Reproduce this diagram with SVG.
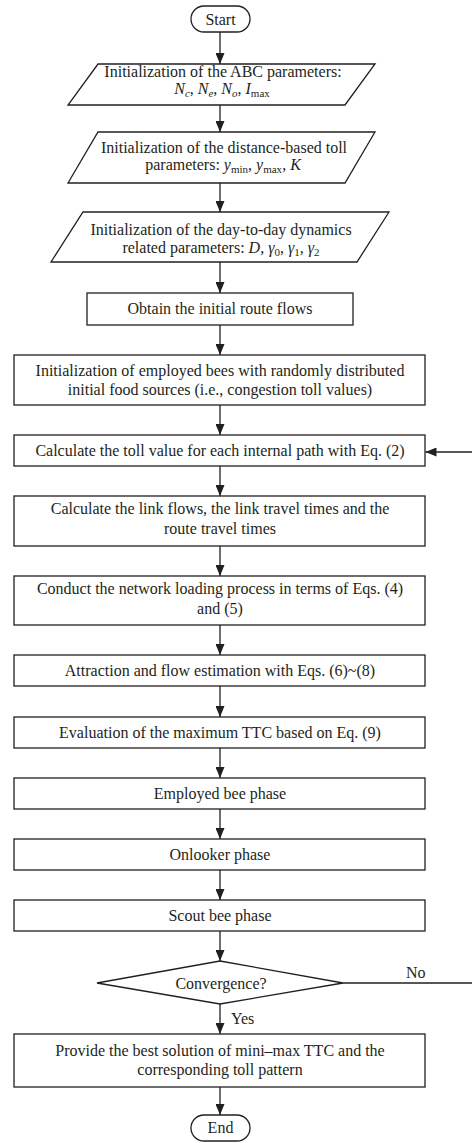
<svg xmlns="http://www.w3.org/2000/svg" width="472" height="1143" viewBox="0 0 472 1143">
<style>
.s{fill:#fff;stroke:#231f20;stroke-width:1.3}
.t{font-family:"Liberation Serif","Times New Roman",serif;font-size:16px;fill:#231f20;text-anchor:middle}
.l{font-family:"Liberation Serif","Times New Roman",serif;font-size:16px;fill:#231f20}
.c{fill:none;stroke:#231f20;stroke-width:1.3}
.i{font-style:italic}
.sub{font-size:11px}
</style>
<defs>
<marker id="ah" markerUnits="userSpaceOnUse" markerWidth="11" markerHeight="9" refX="11" refY="4.5" orient="auto">
<path d="M0,0 L11,4.5 L0,9 z" fill="#231f20"/>
</marker>
</defs>
<rect width="472" height="1143" fill="#fff"/>
<g id="connectors">
<line class="c" x1="220" y1="32" x2="220" y2="64" marker-end="url(#ah)"/>
<line class="c" x1="220" y1="105" x2="220" y2="132" marker-end="url(#ah)"/>
<line class="c" x1="220" y1="183" x2="220" y2="212" marker-end="url(#ah)"/>
<line class="c" x1="220" y1="262" x2="220" y2="293" marker-end="url(#ah)"/>
<line class="c" x1="220" y1="325" x2="220" y2="355" marker-end="url(#ah)"/>
<line class="c" x1="220" y1="405" x2="220" y2="435" marker-end="url(#ah)"/>
<line class="c" x1="220" y1="466" x2="220" y2="496" marker-end="url(#ah)"/>
<line class="c" x1="220" y1="546" x2="220" y2="576" marker-end="url(#ah)"/>
<line class="c" x1="220" y1="625" x2="220" y2="655" marker-end="url(#ah)"/>
<line class="c" x1="220" y1="686" x2="220" y2="717" marker-end="url(#ah)"/>
<line class="c" x1="220" y1="748" x2="220" y2="778" marker-end="url(#ah)"/>
<line class="c" x1="220" y1="809" x2="220" y2="839" marker-end="url(#ah)"/>
<line class="c" x1="220" y1="870" x2="220" y2="900" marker-end="url(#ah)"/>
<line class="c" x1="220" y1="931" x2="220" y2="961" marker-end="url(#ah)"/>
<line class="c" x1="220" y1="1004" x2="220" y2="1034" marker-end="url(#ah)"/>
<line class="c" x1="220" y1="1087" x2="220" y2="1115" marker-end="url(#ah)"/>
<path class="c" d="M343,983 H474 V452 H425.5" marker-end="url(#ah)"/>
<text class="l" x="231" y="1024">Yes</text>
<text class="l" x="406" y="978">No</text>
</g>
<g id="start">
<rect class="s" x="191" y="6" width="59" height="26" rx="13"/>
<text class="t" x="220.5" y="24.5">Start</text>
</g>
<g id="abc-params">
<polygon class="s" points="98,64 375,64 345,105 68,105"/>
<text class="t" x="223" y="77">Initialization of the ABC parameters:</text>
<text class="t" x="222" y="94"><tspan class="i">N</tspan><tspan class="i sub" dy="3">c</tspan><tspan dy="-3">, </tspan><tspan class="i">N</tspan><tspan class="i sub" dy="3">e</tspan><tspan dy="-3">, </tspan><tspan class="i">N</tspan><tspan class="i sub" dy="3">o</tspan><tspan dy="-3">, </tspan><tspan class="i">I</tspan><tspan class="sub" dy="3">max</tspan></text>
</g>
<g id="toll-params">
<polygon class="s" points="98,132 375,132 345,183 68,183"/>
<text class="t" x="224" y="153">Initialization of the distance-based toll</text>
<text class="t" x="223" y="170">parameters: <tspan class="i">y</tspan><tspan class="sub" dy="3">min</tspan><tspan dy="-3">, </tspan><tspan class="i">y</tspan><tspan class="sub" dy="3">max</tspan><tspan dy="-3">, </tspan><tspan class="i">K</tspan></text>
</g>
<g id="dynamics-params">
<polygon class="s" points="83,212 389,212 357,262 51,262"/>
<text class="t" x="221" y="235">Initialization of the day-to-day dynamics</text>
<text class="t" x="221" y="253">related parameters: <tspan class="i">D</tspan>, <tspan class="i">γ</tspan><tspan class="sub" dy="3">0</tspan><tspan dy="-3">, </tspan><tspan class="i">γ</tspan><tspan class="sub" dy="3">1</tspan><tspan dy="-3">, </tspan><tspan class="i">γ</tspan><tspan class="sub" dy="3">2</tspan></text>
</g>
<g id="initial-flows">
<rect class="s" x="87" y="293" width="266" height="32"/>
<text class="t" x="220" y="314">Obtain the initial route flows</text>
</g>
<g id="init-bees">
<rect class="s" x="14" y="355" width="411" height="50"/>
<text class="t" x="220" y="376">Initialization of employed bees with randomly distributed</text>
<text class="t" x="220" y="395">initial food sources (i.e., congestion toll values)</text>
</g>
<g id="calc-toll">
<rect class="s" x="14" y="435" width="411" height="31"/>
<text class="t" x="220" y="456">Calculate the toll value for each internal path with Eq. (2)</text>
</g>
<g id="calc-link">
<rect class="s" x="14" y="496" width="411" height="50"/>
<text class="t" x="220" y="514">Calculate the link flows, the link travel times and the</text>
<text class="t" x="220" y="534">route travel times</text>
</g>
<g id="network-loading">
<rect class="s" x="14" y="576" width="411" height="49"/>
<text class="t" x="220" y="594">Conduct the network loading process in terms of Eqs. (4)</text>
<text class="t" x="220" y="614">and (5)</text>
</g>
<g id="attraction">
<rect class="s" x="14" y="655" width="411" height="31"/>
<text class="t" x="220" y="675.5">Attraction and flow estimation with Eqs. (6)~(8)</text>
</g>
<g id="evaluation">
<rect class="s" x="14" y="717" width="411" height="31"/>
<text class="t" x="220" y="737.5">Evaluation of the maximum TTC based on Eq. (9)</text>
</g>
<g id="employed">
<rect class="s" x="14" y="778" width="411" height="31"/>
<text class="t" x="220" y="798.5">Employed bee phase</text>
</g>
<g id="onlooker">
<rect class="s" x="14" y="839" width="411" height="31"/>
<text class="t" x="220" y="859.5">Onlooker phase</text>
</g>
<g id="scout">
<rect class="s" x="14" y="900" width="411" height="31"/>
<text class="t" x="220" y="920.5">Scout bee phase</text>
</g>
<g id="convergence">
<polygon class="s" points="220,961 343,983 220,1004 97,983"/>
<text class="t" x="221" y="988.5">Convergence?</text>
</g>
<g id="best-solution">
<rect class="s" x="14" y="1034" width="411" height="53"/>
<text class="t" x="220" y="1056">Provide the best solution of mini–max TTC and the</text>
<text class="t" x="220" y="1075">corresponding toll pattern</text>
</g>
<g id="end">
<rect class="s" x="191" y="1115" width="59" height="26" rx="13"/>
<text class="t" x="220.5" y="1133">End</text>
</g>
</svg>
